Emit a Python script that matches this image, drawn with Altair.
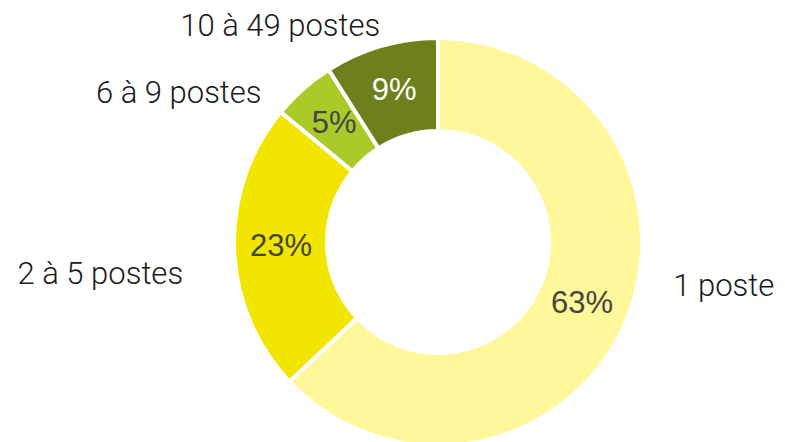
import altair as alt
import pandas as pd

categories = ["1 poste", "2 à 5 postes", "6 à 9 postes", "10 à 49 postes"]
values = [63, 23, 5, 9]
colors = ["#FFF799", "#F2E500", "#ABCA2A", "#6D801C"]
pct_colors = ["#444444", "#444444", "#444444", "#FFFFFF"]

df = pd.DataFrame({
    "cat": categories,
    "val": values,
    "order": list(range(len(categories))),
    "pct": [f"{v}%" for v in values],
    "group": ["right", "left", "left", "top"],
})

base = alt.Chart(df).transform_window(
    end="sum(val)", sort=[alt.SortField("order")]
).transform_calculate(
    start="datum.end - datum.val", mid="datum.end - datum.val / 2"
)

theta_scale = alt.Scale(domain=[0, 100])

arcs = base.mark_arc(outerRadius=204, innerRadius=111, stroke="white", strokeWidth=4).encode(
    theta=alt.Theta("start:Q", scale=theta_scale),
    theta2="end:Q",
    color=alt.Color("cat:N", scale=alt.Scale(domain=categories, range=colors), legend=None),
)

pct = base.mark_text(radius=157, font="Liberation Sans", fontSize=31, fontWeight=400, baseline="middle").encode(
    theta=alt.Theta("mid:Q", scale=theta_scale),
    text="pct:N",
    color=alt.Color("cat:N", scale=alt.Scale(domain=categories, range=pct_colors), legend=None),
)

txt = dict(font="Roboto", fontSize=31, fontWeight=300, baseline="middle", color="#1a1a1a")

lab_right = base.transform_filter("datum.group == 'right'").mark_text(
    radius=240, align="left", dx=15, dy=-50, **txt
).encode(theta=alt.Theta("mid:Q", scale=theta_scale), text="cat:N")

lab_left = base.transform_filter("datum.group == 'left'").mark_text(
    radius=232, align="right", dx=-23, dy=26, **txt
).encode(theta=alt.Theta("mid:Q", scale=theta_scale), text="cat:N")

lab_top = base.transform_filter("datum.group == 'top'").mark_text(
    radius=232, align="right", dx=7, dy=8, **txt
).encode(theta=alt.Theta("mid:Q", scale=theta_scale), text="cat:N")

chart = alt.layer(arcs, pct, lab_right, lab_left, lab_top).resolve_scale(color="independent").properties(
    width=678, height=468, padding={"left": 91, "top": 0, "right": 0, "bottom": 0},
    autosize=alt.AutoSizeParams(type="none"),
).configure_view(stroke=None)

chart.save("out.html", embed_options={"renderer": "svg", "actions": False})
